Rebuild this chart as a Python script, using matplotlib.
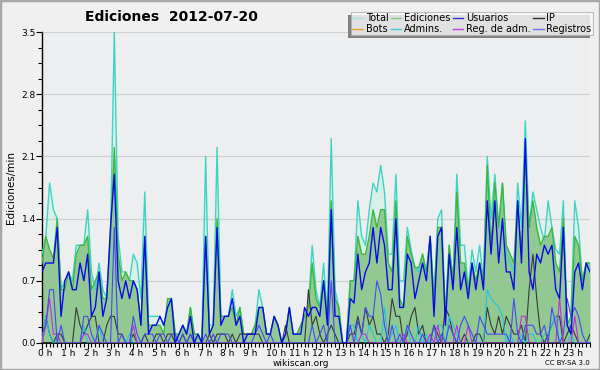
import matplotlib
matplotlib.use("Agg")
import matplotlib.pyplot as plt
import matplotlib.transforms as mtransforms
from matplotlib.lines import Line2D
from matplotlib.patches import Rectangle
from matplotlib.ticker import MultipleLocator
import numpy as np

# edits per minute, one value every 10 minutes (0:00 .. 24:00)
total = [
    1.0, 1.2, 1.8, 1.5, 1.4, 0.6,
    0.7, 0.8, 0.7, 1.1, 1.1, 1.1,
    1.5, 0.8, 0.6, 0.9, 0.6, 0.5,
    1.2, 3.5, 1.2, 0.8, 0.8, 0.7,
    1.0, 0.9, 0.5, 1.7, 0.3, 0.3,
    0.3, 0.3, 0.2, 0.4, 0.5, 0.1,
    0.1, 0.2, 0.1, 0.4, 0.1, 0.1,
    0.0, 2.1, 0.2, 0.2, 2.2, 0.3,
    0.3, 0.3, 0.6, 0.3, 0.4, 0.1,
    0.1, 0.1, 0.2, 0.6, 0.4, 0.1,
    0.1, 0.3, 0.2, 0.0, 0.1, 0.4,
    0.1, 0.1, 0.2, 0.3, 0.4, 1.1,
    0.6, 0.4, 0.9, 0.3, 2.3, 0.6,
    0.4, 0.0, 0.0, 0.7, 0.7, 1.6,
    1.2, 1.1, 1.5, 1.8, 1.7, 2.0,
    1.7, 1.0, 1.0, 1.9, 0.7, 0.7,
    1.3, 1.05, 0.85, 0.8, 1.0, 0.8,
    1.2, 0.5, 1.4, 1.5, 0.3, 1.1,
    0.7, 1.9, 1.1, 1.1, 0.6, 1.05,
    0.8, 1.1, 0.7, 2.1, 1.4, 1.9,
    1.3, 1.8, 1.0, 0.9, 0.8, 1.8,
    1.3, 2.5, 1.3, 1.7, 1.5, 1.3,
    1.15, 1.6, 1.3, 1.05, 1.0, 1.6,
    0.2, 0.3, 1.6, 1.3, 0.7, 0.9, 0.9,
]
ediciones = [
    0.9, 1.2, 1.05, 0.95, 1.4, 0.6,
    0.6, 0.8, 0.6, 1.0, 1.1, 1.1,
    1.2, 0.6, 0.7, 0.8, 0.5, 0.5,
    1.2, 2.2, 1.0, 0.7, 0.8, 0.7,
    0.7, 0.6, 0.2, 1.2, 0.2, 0.2,
    0.2, 0.2, 0.1, 0.5, 0.5, 0.1,
    0.1, 0.2, 0.1, 0.4, 0.1, 0.1,
    0.0, 1.2, 0.1, 0.2, 1.4, 0.3,
    0.3, 0.3, 0.4, 0.2, 0.4, 0.1,
    0.1, 0.1, 0.2, 0.4, 0.4, 0.1,
    0.1, 0.3, 0.2, 0.0, 0.1, 0.4,
    0.1, 0.1, 0.2, 0.3, 0.4, 0.9,
    0.5, 0.4, 0.7, 0.3, 1.6, 0.5,
    0.4, 0.0, 0.0, 0.7, 0.7, 1.2,
    1.0, 1.0, 1.2, 1.5, 1.3, 1.5,
    1.5, 0.9, 0.8, 1.6, 0.5, 0.4,
    1.2, 1.0, 0.85, 0.85, 1.0, 0.8,
    1.2, 0.5, 1.3, 1.3, 0.3, 1.1,
    0.7, 1.7, 0.9, 0.9, 0.6, 0.9,
    0.7, 0.9, 0.7, 2.0, 1.1, 1.8,
    1.3, 1.8, 1.1, 1.0, 0.9, 1.6,
    1.0, 2.1, 1.3, 1.6, 1.3, 1.1,
    1.2, 1.2, 1.3, 0.9, 0.8, 1.4,
    0.2, 0.3, 1.2, 1.1, 0.7, 0.9, 0.9,
]
usuarios = [
    0.8, 0.9, 0.9, 0.9, 1.3, 0.3,
    0.7, 0.8, 0.6, 0.6, 0.9, 0.7,
    1.0, 0.3, 0.4, 0.8, 0.3, 0.5,
    1.3, 1.9, 0.7, 0.5, 0.7, 0.5,
    0.7, 0.6, 0.2, 1.2, 0.1, 0.2,
    0.2, 0.3, 0.2, 0.4, 0.5, 0.0,
    0.1, 0.2, 0.1, 0.3, 0.0, 0.1,
    0.0, 1.2, 0.1, 0.2, 1.3, 0.2,
    0.3, 0.3, 0.5, 0.2, 0.3, 0.0,
    0.1, 0.1, 0.1, 0.4, 0.4, 0.1,
    0.1, 0.3, 0.2, 0.0, 0.1, 0.4,
    0.1, 0.1, 0.1, 0.4, 0.3, 0.4,
    0.4, 0.3, 0.7, 0.2, 1.5, 0.3,
    0.3, 0.0, 0.0, 0.5, 0.45, 1.0,
    0.6, 0.8, 0.9, 1.3, 0.9, 1.3,
    1.1, 0.6, 0.6, 1.4, 0.4, 0.4,
    1.0, 0.9, 0.5, 0.7, 0.9, 0.7,
    1.2, 0.3, 1.2, 1.3, 0.2, 1.0,
    0.6, 1.3, 0.6, 0.8, 0.5, 0.9,
    0.6, 0.9, 0.6, 1.6, 1.0, 1.6,
    0.9, 1.4, 0.8, 0.8, 0.6, 1.6,
    0.9, 2.3, 0.8, 0.6, 1.0, 0.9,
    1.1, 1.0, 1.1, 0.6, 0.5, 1.3,
    0.2, 0.1, 0.8, 0.9, 0.6, 0.9, 0.8,
]
registros = [
    0.1, 0.2, 0.6, 0.6, 0.0, 0.2,
    0.0, 0.0, 0.0, 0.0, 0.0, 0.3,
    0.3, 0.1, 0.0, 0.2, 0.1, 0.0,
    0.0, 1.3, 0.0, 0.1, 0.0, 0.0,
    0.3, 0.1, 0.0, 0.1, 0.1, 0.1,
    0.0, 0.1, 0.1, 0.0, 0.1, 0.1,
    0.0, 0.1, 0.0, 0.1, 0.0, 0.0,
    0.0, 0.1, 0.0, 0.1, 0.0, 0.1,
    0.1, 0.1, 0.0, 0.0, 0.0, 0.0,
    0.0, 0.0, 0.1, 0.2, 0.1, 0.0,
    0.1, 0.0, 0.0, 0.0, 0.0, 0.0,
    0.0, 0.0, 0.0, 0.0, 0.0, 0.2,
    0.0, 0.1, 0.2, 0.0, 0.7, 0.0,
    0.0, 0.0, 0.0, 0.2, 0.0, 0.25,
    0.1, 0.4, 0.3, 0.3, 0.7, 0.55,
    0.2, 0.0, 0.2, 0.0, 0.1, 0.0,
    0.2, 0.1, 0.0, 0.0, 0.1, 0.0,
    0.0, 0.2, 0.0, 0.1, 0.0, 0.2,
    0.1, 0.0, 0.2, 0.3, 0.2, 0.1,
    0.0, 0.3, 0.2, 0.1, 0.1, 0.1,
    0.1, 0.1, 0.1, 0.0, 0.5, 0.1,
    0.0, 0.2, 0.2, 0.2, 0.1, 0.1,
    0.2, 0.0, 0.4, 0.2, 0.0, 0.1,
    0.5, 0.3, 0.4, 0.3, 0.1, 0.0, 0.0,
]
ip = [
    0.0, 0.3, 0.1, 0.0, 0.1, 0.1,
    0.0, 0.0, 0.0, 0.4, 0.2, 0.1,
    0.2, 0.3, 0.3, 0.0, 0.0, 0.2,
    0.3, 0.3, 0.1, 0.1, 0.0, 0.0,
    0.1, 0.0, 0.0, 0.1, 0.0, 0.0,
    0.1, 0.1, 0.0, 0.1, 0.1, 0.0,
    0.0, 0.1, 0.0, 0.1, 0.0, 0.0,
    0.0, 0.0, 0.1, 0.0, 0.1, 0.1,
    0.1, 0.0, 0.1, 0.0, 0.1, 0.1,
    0.1, 0.1, 0.1, 0.1, 0.0, 0.0,
    0.0, 0.0, 0.0, 0.0, 0.2, 0.0,
    0.0, 0.0, 0.0, 0.0, 0.6, 0.2,
    0.3, 0.1, 0.0, 0.1, 0.2, 0.1,
    0.0, 0.0, 0.0, 0.1, 0.1, 0.3,
    0.1, 0.4, 0.2, 0.3, 0.1, 0.1,
    0.0, 0.1, 0.5, 0.3, 0.3, 0.0,
    0.1, 0.3, 0.4, 0.1, 0.2, 0.0,
    0.0, 0.2, 0.1, 0.0, 0.4, 0.3,
    0.1, 0.0, 0.0, 0.1, 0.0, 0.0,
    0.1, 0.1, 0.0, 0.4, 0.2, 0.1,
    0.3, 0.1, 0.3, 0.2, 0.1, 0.1,
    0.2, 0.0, 0.6, 1.0, 0.5, 0.1,
    0.0, 0.1, 0.2, 0.3, 0.3, 0.0,
    0.1, 0.2, 0.1, 0.0, 0.0, 0.0, 0.1,
]
admins = [
    0.0, 0.3, 0.1, 0.0, 0.0, 0.0,
    0.0, 0.0, 0.0, 0.0, 0.0, 0.2,
    0.0, 0.0, 0.0, 0.2, 0.0, 0.0,
    0.0, 0.0, 0.0, 0.0, 0.0, 0.1,
    0.0, 0.0, 0.0, 0.0, 0.0, 0.0,
    0.0, 0.0, 0.0, 0.0, 0.0, 0.0,
    0.0, 0.0, 0.0, 0.0, 0.0, 0.0,
    0.0, 0.0, 0.0, 0.0, 0.0, 0.0,
    0.0, 0.0, 0.0, 0.0, 0.0, 0.0,
    0.0, 0.0, 0.0, 0.0, 0.0, 0.0,
    0.0, 0.0, 0.0, 0.0, 0.0, 0.0,
    0.0, 0.0, 0.0, 0.0, 0.0, 0.0,
    0.0, 0.0, 0.0, 0.0, 0.0, 0.0,
    0.0, 0.0, 0.0, 0.2, 0.2, 0.0,
    0.1, 0.0, 0.2, 0.1, 0.0, 0.0,
    0.4, 0.0, 0.1, 0.2, 0.0, 0.0,
    0.2, 0.0, 0.0, 0.2, 0.0, 0.1,
    0.0, 0.0, 0.2, 0.2, 0.0, 0.3,
    0.2, 0.1, 0.0, 0.0, 0.0, 0.0,
    0.0, 0.0, 0.0, 0.6, 0.5, 0.45,
    0.4, 0.3, 0.0, 0.1, 0.0, 0.0,
    0.1, 0.0, 0.1, 0.1, 0.0, 0.0,
    0.1, 0.1, 0.2, 0.3, 0.0, 0.0,
    0.0, 0.1, 0.0, 0.0, 0.0, 0.0, 0.0,
]
regAdm = [
    0.0, 0.2, 0.5, 0.1, 0.1, 0.0,
    0.0, 0.0, 0.0, 0.0, 0.0, 0.1,
    0.1, 0.0, 0.0, 0.0, 0.0, 0.0,
    0.0, 0.0, 0.0, 0.0, 0.0, 0.0,
    0.2, 0.0, 0.0, 0.0, 0.0, 0.0,
    0.0, 0.0, 0.0, 0.0, 0.0, 0.0,
    0.0, 0.0, 0.0, 0.0, 0.0, 0.0,
    0.0, 0.0, 0.0, 0.0, 0.0, 0.0,
    0.0, 0.0, 0.0, 0.0, 0.0, 0.0,
    0.0, 0.0, 0.0, 0.0, 0.0, 0.0,
    0.0, 0.0, 0.0, 0.0, 0.0, 0.0,
    0.0, 0.0, 0.0, 0.0, 0.0, 0.0,
    0.0, 0.0, 0.0, 0.0, 0.0, 0.0,
    0.0, 0.0, 0.0, 0.0, 0.0, 0.0,
    0.1, 0.1, 0.0, 0.0, 0.0, 0.0,
    0.0, 0.0, 0.0, 0.0, 0.0, 0.1,
    0.0, 0.0, 0.0, 0.0, 0.0, 0.0,
    0.1, 0.0, 0.2, 0.0, 0.0, 0.0,
    0.0, 0.2, 0.0, 0.0, 0.2, 0.0,
    0.0, 0.0, 0.0, 0.0, 0.0, 0.0,
    0.0, 0.0, 0.0, 0.0, 0.0, 0.0,
    0.3, 0.3, 0.0, 0.0, 0.0, 0.0,
    0.0, 0.0, 0.0, 0.0, 0.5, 0.0,
    0.0, 0.0, 0.3, 0.0, 0.0, 0.0, 0.0,
]
hourLabels = [f"{h} h" for h in range(24)]

hours = np.arange(len(total)) / 6.0

fig = plt.figure(figsize=(6, 3.7), dpi=100, facecolor="#f0f0f0")
ax = fig.add_axes([42 / 600, 27 / 370, 548 / 600, 311 / 370])
ax.set_facecolor("#eceef0")

ax.fill_between(hours, total, color="#d8efea", zorder=1, lw=0)
ax.fill_between(hours, ediciones, color="#92c992", zorder=1.2, lw=0)
ax.plot(hours, total, color="#3ed4c4", lw=1.0, zorder=3)
ax.plot(hours, ediciones, color="#3db83d", lw=1.0, zorder=3.1)
ax.plot(hours, ip, color="#383838", lw=0.8, zorder=3.2)
ax.plot(hours, admins, color="#22c4e0", lw=0.8, zorder=3.3)
ax.plot(hours, regAdm, color="#c030e0", lw=0.8, zorder=3.4)
ax.plot(hours, registros, color="#4848f0", lw=0.8, zorder=3.5)
ax.plot(hours, usuarios, color="#0a0ae6", lw=1.0, zorder=3.6)

ax.set_xlim(0, 24)
ax.set_ylim(0, 3.5)
ax.yaxis.set_major_locator(MultipleLocator(0.7))
ax.yaxis.set_minor_locator(MultipleLocator(0.175))
ax.set_yticklabels([f"{v:.1f}" for v in ax.get_yticks()])
ax.set_xticks(range(24))
ax.set_xticklabels(hourLabels)
ax.xaxis.set_minor_locator(MultipleLocator(1 / 6))
ax.grid(axis="y", color="#b8b8b8", lw=0.9, alpha=0.55, zorder=2)
ax.set_axisbelow(False)

for s in ["top", "right"]:
    ax.spines[s].set_visible(False)
ax.spines["left"].set_linewidth(1.0)
ax.spines["bottom"].set_linewidth(1.2)
ax.tick_params(axis="both", which="major", labelsize=6.5, length=4, width=0.8, pad=0.5)
ax.tick_params(axis="both", which="minor", length=3, width=0.8)
shift = mtransforms.ScaledTranslation(-3 / 72, 0, fig.dpi_scale_trans)
for lbl in ax.get_xticklabels():
    lbl.set_horizontalalignment("left")
    lbl.set_transform(lbl.get_transform() + shift)

ax.set_ylabel("Ediciones/min", fontsize=7.5, labelpad=4)
fig.text(85 / 600, 1 - 17 / 370, "Ediciones  2012-07-20", fontsize=10,
         fontweight="bold", va="center", ha="left")
fig.text(301 / 600, 1 - 363 / 370, "wikiscan.org", fontsize=6.5, ha="center", va="center")
fig.text(590 / 600, 1 - 363 / 370, "CC BY-SA 3.0", fontsize=5, ha="right", va="center")

legendItems = [
    ("Total", "#a4e6de"), ("Bots", "#f0a030"),
    ("Ediciones", "#80d080"), ("Admins.", "#40c8e0"),
    ("Usuarios", "#3030d0"), ("Reg. de adm.", "#c040e0"),
    ("IP", "#303030"), ("Registros", "#7070f0"),
]
handles = [Line2D([], [], color=c, lw=1) for _, c in legendItems]
leg = fig.legend(handles, [n for n, _ in legendItems], ncol=4, loc="upper right",
                 bbox_to_anchor=(593 / 600, 1 - 12 / 370), fontsize=7,
                 frameon=True, fancybox=False, borderpad=0.15, labelspacing=0.05,
                 handlelength=1.1, handletextpad=0.3, columnspacing=0.2,
                 borderaxespad=0)
leg.get_frame().set_facecolor("#fafafa")
leg.get_frame().set_edgecolor("#b0b0b0")
leg.get_frame().set_linewidth(0.8)
leg.set_zorder(10)

fig.canvas.draw()
bb = leg.get_window_extent().transformed(fig.transFigure.inverted())
dx, dy = 3 / 600, 3 / 370
fig.add_artist(Rectangle((bb.x0 - dx, bb.y0 - dy), bb.width, bb.height,
                         transform=fig.transFigure, facecolor="#808080",
                         edgecolor="none", zorder=9))
fig.add_artist(Rectangle((0, 0), 1, 1, transform=fig.transFigure, fill=False,
                         edgecolor="#a8a8a8", lw=2.5, zorder=20))

fig.savefig("out.png", dpi=100, facecolor=fig.get_facecolor())
